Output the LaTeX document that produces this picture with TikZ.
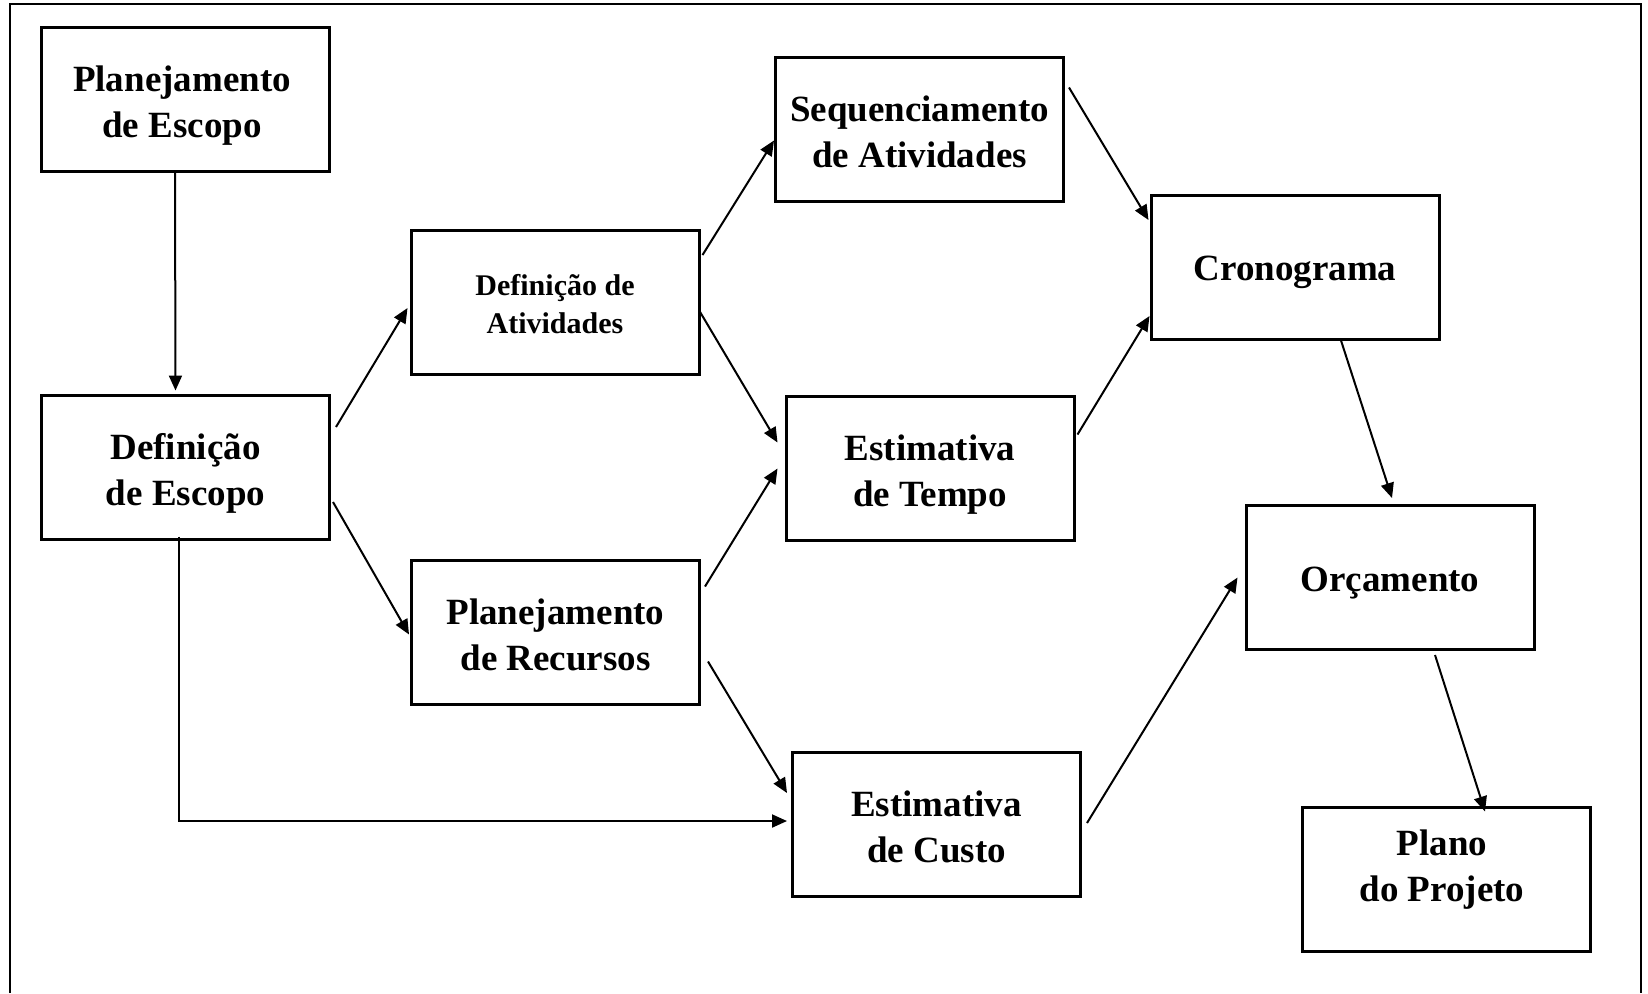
\documentclass[tikz,border=0pt]{standalone}
\usepackage{fontspec}
\setmainfont{Liberation Serif}
\usetikzlibrary{arrows.meta,calc}
\begin{document}
\begin{tikzpicture}[x=0.5pt,y=-0.5pt,
  box/.style={draw,line width=1.5pt,minimum width=144pt,minimum height=72pt,inner sep=0pt},
  txt/.style={align=center,inner sep=0pt,font=\fontsize{18.5}{23}\selectfont\bfseries},
  smalltxt/.style={txt,font=\fontsize{15}{19}\selectfont\bfseries},
  arr/.style={line width=1pt,-{Triangle[length=7.5pt,width=6.5pt]}}]
\useasboundingbox (0,0) rectangle (1648,993);
\draw[line width=1.25pt] (10,993) -- (10,4) -- (1641,4) -- (1641,993);
\node[box,label={[txt,yshift=-3.2pt,xshift=-1.5pt]center:Planejamento\\de Escopo}] (pe) at (185,99) {};
\node[box,label={[txt,yshift=-3.4pt]center:Definição\\de Escopo}] (de) at (185.5,467) {};
\node[box,label={[smalltxt,yshift=-1pt]center:Definição de\\Atividades}] (da) at (555,302) {};
\node[box,label={[txt,yshift=-1pt]center:Planejamento\\de Recursos}] (pr) at (555.5,632.5) {};
\node[box,label={[txt,yshift=-1pt]center:Sequenciamento\\de Atividades}] (sa) at (919.5,129.5) {};
\node[box,label={[txt,yshift=-2.9pt]center:Estimativa\\de Tempo}] (et) at (930,468.5) {};
\node[box,label={[txt,yshift=-2.6pt]center:Cronograma}] (cr) at (1295,267) {};
\node[box,label={[txt,yshift=-2.6pt]center:Orçamento}] (or) at (1390,577.5) {};
\node[box,label={[txt,yshift=-1.2pt]center:Estimativa\\de Custo}] (ec) at (936.5,824) {};
\node[box,label={[txt,yshift=4.5pt,xshift=-2pt]center:Plano\\do Projeto}] (pp) at (1446,879) {};
\draw[arr] ($(pe.south)+(-10,0)$) -- ($(de.north)+(-10,-3)$);
\draw[arr] ($(de.east)+(5,-40)$) -- ($(da.west)+(-2,6)$);
\draw[arr] ($(de.east)+(2,35)$) -- ($(pr.west)+(-1,2)$);
\draw[arr] ($(de.south)+(-7,-4)$) |- ($(ec.west)+(-4,-3)$);
\draw[arr] ($(da.east)+(2,-47)$) -- ($(sa.west)+(0,11)$);
\draw[arr] ($(da.east)+(-1,9)$) -- ($(et.west)+(-7,-26)$);
\draw[arr] ($(pr.east)+(4,-46)$) -- ($(et.west)+(-7,0)$);
\draw[arr] ($(pr.east)+(7,29)$) -- ($(ec.west)+(-4,-31)$);
\draw[arr] ($(sa.east)+(4,-42)$) -- ($(cr.west)+(-1,-47)$);
\draw[arr] ($(et.east)+(2,-34)$) -- ($(cr.west)+(0,49)$);
\draw[arr] ($(cr.south)+(46,0)$) -- ($(or.north)+(2,-6)$);
\draw[arr] ($(ec.east)+(5,-1)$) -- ($(or.west)+(-7,0)$);
\draw[arr] ($(or.south)+(45,4)$) -- ($(pp.north)+(39,6)$);
\end{tikzpicture}
\end{document}
